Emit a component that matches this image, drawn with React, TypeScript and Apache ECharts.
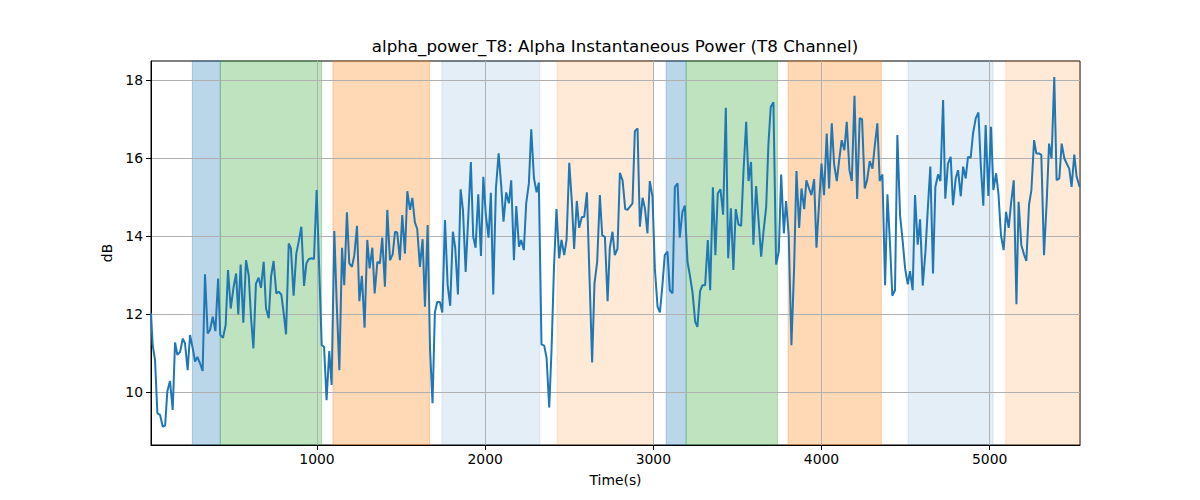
import { useEffect, useRef } from 'react';
import * as echarts from 'echarts';

// sample times (s) and alpha power (dB)
const times = [
  13, 23, 37, 51, 67, 83, 97, 110, 126, 142, 156, 170, 186, 202, 215, 231, 245, 261, 275, 289,
  305, 320, 334, 350, 364, 380, 396, 412, 425, 441, 457, 471, 487, 503, 519, 532, 546, 562, 578, 594,
  608, 622, 637, 653, 667, 683, 697, 713, 727, 742, 758, 772, 788, 802, 816, 832, 845, 861, 877, 891,
  907, 923, 937, 952, 968, 982, 998, 1028, 1042, 1057, 1073, 1087, 1103, 1117, 1133, 1149, 1162, 1178, 1192, 1208,
  1222, 1238, 1252, 1267, 1283, 1299, 1313, 1329, 1343, 1359, 1374, 1388, 1404, 1418, 1434, 1450, 1464, 1477, 1493, 1507,
  1523, 1537, 1553, 1567, 1582, 1596, 1612, 1628, 1642, 1658, 1672, 1687, 1701, 1715, 1731, 1745, 1761, 1777, 1792, 1808,
  1822, 1838, 1854, 1868, 1884, 1915, 1929, 1943, 1959, 1975, 1989, 2004, 2020, 2034, 2048, 2064, 2080, 2096, 2109, 2125,
  2141, 2155, 2171, 2185, 2201, 2214, 2230, 2244, 2260, 2274, 2290, 2306, 2319, 2335, 2351, 2365, 2381, 2395, 2409, 2424,
  2440, 2454, 2470, 2484, 2500, 2516, 2529, 2545, 2559, 2575, 2589, 2605, 2621, 2636, 2650, 2666, 2682, 2696, 2712, 2728,
  2741, 2757, 2771, 2787, 2801, 2817, 2833, 2846, 2860, 2876, 2890, 2906, 2920, 2936, 2950, 2965, 2979, 2995, 3009, 3025,
  3039, 3054, 3068, 3084, 3098, 3114, 3128, 3144, 3157, 3173, 3187, 3203, 3217, 3233, 3249, 3262, 3278, 3292, 3308, 3324,
  3338, 3354, 3369, 3383, 3399, 3415, 3431, 3445, 3461, 3476, 3490, 3506, 3522, 3536, 3552, 3566, 3581, 3595, 3611, 3625,
  3641, 3655, 3671, 3684, 3698, 3714, 3730, 3746, 3760, 3776, 3789, 3805, 3821, 3837, 3851, 3867, 3881, 3897, 3910, 3926,
  3940, 3956, 3970, 3986, 4000, 4015, 4031, 4045, 4061, 4075, 4091, 4105, 4120, 4136, 4150, 4166, 4180, 4196, 4212, 4227,
  4241, 4257, 4271, 4287, 4303, 4316, 4332, 4346, 4362, 4378, 4392, 4408, 4421, 4437, 4451, 4467, 4483, 4497, 4513, 4526,
  4542, 4556, 4572, 4586, 4602, 4618, 4631, 4647, 4663, 4677, 4693, 4707, 4723, 4736, 4752, 4768, 4782, 4798, 4812, 4828,
  4842, 4857, 4871, 4887, 4901, 4917, 4933, 4947, 4962, 4976, 4992, 5008, 5022, 5038, 5052, 5067, 5083, 5097, 5113, 5127,
  5143, 5159, 5172, 5188, 5204, 5218, 5234, 5248, 5264, 5277, 5293, 5307, 5323, 5339, 5353, 5368, 5384, 5398, 5414, 5428,
  5444, 5458, 5473, 5487, 5503, 5517, 5535,
];

const power = [
  12.03, 11.21, 10.83, 9.46, 9.42, 9.12, 9.15, 10.02, 10.29, 9.55, 11.28, 10.96, 11.04, 11.38, 11.26, 10.57, 11.47, 11.13, 10.79, 10.91,
  10.74, 10.55, 13.03, 11.51, 11.6, 11.94, 11.57, 12.92, 11.47, 11.4, 11.73, 13.14, 12.15, 12.67, 13.05, 12.0, 13.28, 11.79, 13.39, 13.0,
  11.9, 11.13, 12.79, 12.94, 12.68, 13.35, 12.15, 11.9, 12.97, 13.37, 12.54, 12.58, 12.51, 12.03, 11.49, 13.82, 13.69, 12.48, 13.56, 13.86,
  14.25, 12.73, 13.31, 13.42, 13.44, 13.42, 15.19, 11.21, 11.17, 9.8, 11.06, 10.19, 14.14, 12.32, 10.57, 13.71, 12.75, 14.62, 13.31, 13.22,
  13.52, 14.27, 12.34, 12.99, 11.66, 13.91, 13.18, 13.71, 12.54, 13.35, 13.31, 13.97, 12.71, 14.68, 13.39, 13.54, 14.12, 14.1, 13.39, 14.55,
  13.56, 15.16, 14.68, 14.99, 14.36, 14.19, 13.22, 13.93, 12.2, 14.29, 11.13, 9.72, 12.05, 12.32, 12.32, 12.05, 14.42, 12.75, 12.22, 14.12,
  13.71, 12.51, 15.21, 14.68, 13.09, 15.91, 13.99, 13.71, 15.08, 13.5, 15.53, 14.55, 13.97, 15.12, 12.51, 15.23, 16.13, 15.27, 14.38, 15.13,
  14.85, 15.44, 13.39, 14.78, 13.74, 13.91, 13.65, 14.85, 15.36, 16.75, 15.5, 15.13, 15.38, 11.23, 11.2, 10.89, 9.61, 11.13, 13.18, 14.7,
  13.44, 13.91, 13.52, 13.91, 15.89, 14.85, 13.68, 14.91, 14.22, 14.5, 14.5, 15.13, 12.88, 10.77, 12.79, 13.35, 15.06, 14.03, 13.99, 12.34,
  13.69, 14.12, 13.52, 13.69, 15.63, 15.44, 14.7, 14.68, 14.76, 14.85, 16.7, 16.77, 14.25, 14.99, 14.72, 14.08, 15.42, 15.02, 13.18, 12.2,
  12.05, 12.75, 13.52, 13.61, 12.62, 12.54, 15.27, 15.36, 13.97, 14.63, 14.79, 13.35, 13.01, 12.56, 11.81, 11.68, 12.6, 12.75, 12.75, 13.91,
  12.62, 15.26, 13.52, 15.1, 15.21, 14.56, 17.3, 13.44, 14.72, 13.14, 14.7, 14.31, 14.27, 15.66, 16.94, 15.42, 15.91, 13.79, 15.29, 14.46,
  13.48, 14.12, 14.76, 16.34, 17.32, 17.44, 13.28, 13.61, 15.59, 14.08, 14.91, 14.03, 11.21, 13.18, 15.68, 14.22, 15.23, 14.7, 15.44, 15.23,
  15.06, 15.47, 13.71, 14.89, 15.87, 15.06, 16.64, 15.23, 16.9, 15.85, 15.42, 15.96, 16.47, 16.21, 16.94, 15.7, 15.42, 17.61, 14.96, 17.03,
  17.01, 15.23, 15.44, 15.93, 15.74, 16.3, 16.9, 15.42, 15.59, 12.75, 15.08, 13.74, 12.48, 12.62, 16.6, 14.55, 13.86, 13.18, 12.77, 13.11,
  12.62, 15.06, 13.79, 14.44, 12.74, 13.61, 14.63, 15.79, 13.05, 15.27, 15.59, 15.42, 17.5, 14.97, 15.87, 16.04, 14.8, 15.49, 15.7, 15.03,
  15.79, 15.49, 16.04, 16.02, 16.64, 17.03, 17.18, 15.83, 14.79, 16.86, 15.04, 16.81, 15.19, 15.62, 15.1, 14.03, 13.65, 14.63, 14.22, 14.85,
  15.44, 12.26, 14.89, 13.78, 13.54, 13.37, 14.82, 15.19, 16.47, 16.13, 16.13, 16.09, 13.52, 14.89, 16.38, 16.0, 18.09, 15.44, 15.49, 16.38,
  16.0, 15.87, 15.74, 15.27, 16.1, 15.53, 15.27,
];

// shaded phases
const bandStart = [259, 425, 1095, 1743, 2427, 3076, 3195, 3801, 4515, 5095];
const bandEnd = [425, 1028, 1670, 2325, 3001, 3195, 3738, 4356, 5020, 5537];
const bandColor = [
  'rgba(31,119,180,0.3)',
  'rgba(44,160,44,0.3)',
  'rgba(255,127,14,0.3)',
  'rgba(31,119,180,0.12)',
  'rgba(255,127,14,0.16)',
  'rgba(31,119,180,0.3)',
  'rgba(44,160,44,0.3)',
  'rgba(255,127,14,0.3)',
  'rgba(31,119,180,0.12)',
  'rgba(255,127,14,0.16)',
];

const xTicks = [1000, 2000, 3000, 4000, 5000];
const yTicks = [10, 12, 14, 16, 18];

const FONT = 'DejaVu Sans';

export default function App() {
  const chartRef = useRef<HTMLDivElement>(null);

  useEffect(() => {
    if (!chartRef.current) return;
    const chart = echarts.init(chartRef.current, null, { renderer: 'svg' });

    const lineData = times.map((t, i) => [t, power[i]]);
    const areas = bandStart.map((s, i) => [
      { xAxis: s, itemStyle: { color: bandColor[i], borderColor: bandColor[i], borderWidth: 1 } },
      { xAxis: bandEnd[i] },
    ]);

    const option = {
      animation: false,
      backgroundColor: '#fff',
      title: {
        text: 'alpha_power_T8: Alpha Instantaneous Power (T8 Channel)',
        left: 615,
        textAlign: 'center',
        top: 37,
        padding: 0,
        textStyle: { fontFamily: FONT, fontSize: 16.7, fontWeight: 'normal', color: '#000' },
      },
      grid: {
        left: 151,
        right: 120,
        top: 61,
        bottom: 55,
        show: true,
        borderColor: '#000',
        borderWidth: 1,
        backgroundColor: 'transparent',
      },
      xAxis: {
        type: 'value',
        min: 13,
        max: 5537,
        z: 1.5,
        name: 'Time(s)',
        nameLocation: 'middle',
        nameGap: 28,
        nameTextStyle: { fontFamily: FONT, fontSize: 13.9, color: '#000' },
        axisLine: { show: true, onZero: false, lineStyle: { color: '#000', width: 1 } },
        axisTick: { show: true, length: 5, customValues: xTicks, lineStyle: { color: '#000' } },
        axisLabel: {
          customValues: xTicks,
          formatter: (v: number) => String(v),
          fontFamily: FONT,
          fontSize: 13.9,
          color: '#000',
          margin: 7,
        },
        splitLine: { show: true, lineStyle: { color: '#b0b0b0', width: 1 } },
      },
      yAxis: {
        type: 'value',
        min: 8.65,
        max: 18.5,
        z: 1.5,
        name: 'dB',
        nameLocation: 'middle',
        nameGap: 36,
        nameTextStyle: { fontFamily: FONT, fontSize: 13.9, color: '#000' },
        axisLine: { show: true, onZero: false, lineStyle: { color: '#000', width: 1 } },
        axisTick: { show: true, length: 5, customValues: yTicks, lineStyle: { color: '#000' } },
        axisLabel: {
          customValues: yTicks,
          formatter: (v: number) => String(v),
          fontFamily: FONT,
          fontSize: 13.9,
          color: '#000',
          margin: 8,
        },
        splitLine: { show: true, lineStyle: { color: '#b0b0b0', width: 1 } },
      },
      series: [
        {
          type: 'line',
          data: lineData,
          showSymbol: false,
          z: 3,
          lineStyle: { color: '#1f77b4', width: 2 },
          markArea: { silent: true, data: areas },
        },
      ],
    };

    chart.setOption(option);
    return () => {
      chart.dispose();
    };
  }, []);

  return (
    <div
      ref={chartRef}
      style={{ position: 'absolute', left: 0, top: 0, width: '1200px', height: '500px' }}
    />
  );
}
